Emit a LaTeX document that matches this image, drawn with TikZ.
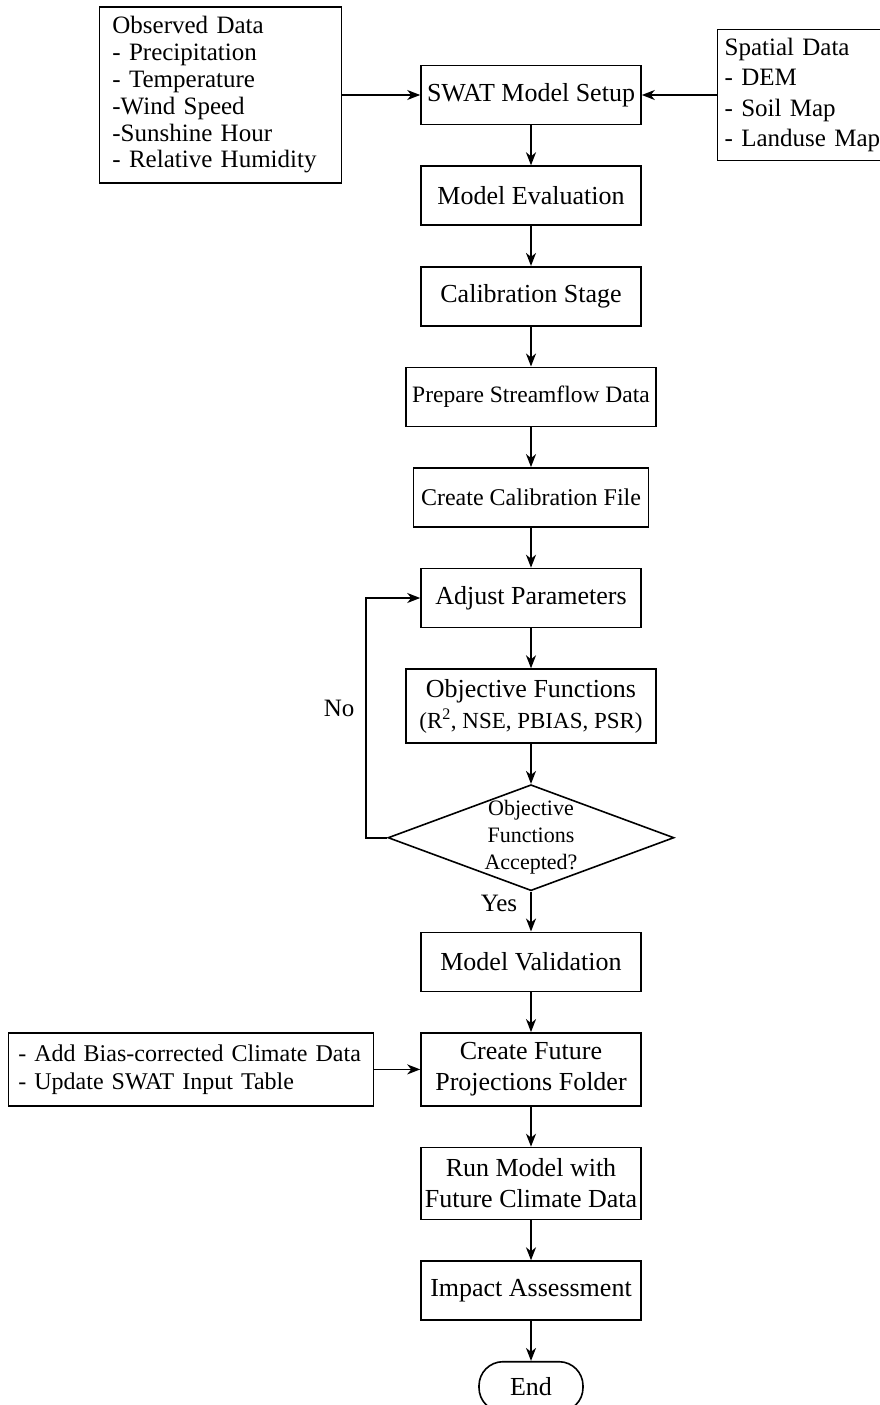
\documentclass[tikz,border=0pt]{standalone}
\usepackage{fontspec}
\setmainfont{Liberation Serif}
\usetikzlibrary{positioning,arrows.meta,shapes.geometric}

\begin{document}
\begin{tikzpicture}[
  x=1pt, y=1pt,
  font=\fontsize{26}{31}\selectfont,
  node distance=40pt,
  blk/.style  = {draw, line width=1.6pt, align=center, inner sep=1pt,
                 minimum width=220pt, minimum height=59pt},
  side/.style = {draw, line width=1.6pt, align=left, inner xsep=13pt,
                 inner ysep=5pt, font=\fontsize{25}{26.8}\selectfont},
  dec/.style  = {draw, diamond, line width=1.6pt, inner sep=0pt,
                 minimum width=286pt, minimum height=106pt},
  term/.style = {draw, line width=1.6pt, rounded corners=24pt,
                 minimum width=104pt, minimum height=50pt},
  ar/.style   = {-{Stealth[length=13pt, width=10pt, inset=4pt]}, line width=1.6pt},
  lbl/.style  = {inner sep=3pt, font=\fontsize{25}{27}\selectfont}
]
\useasboundingbox (0,0) rectangle (879,-1405);

% ---- main column ----------------------------------------------------------
\node[blk] (setup) at (531,-95) {SWAT Model Setup};
\node[blk, below=of setup] (eval) {Model Evaluation};
\node[blk, below=of eval] (calib) {Calibration Stage};
\node[blk, below=of calib, minimum width=250pt,
      font=\fontsize{23.5}{27}\selectfont] (prep) {Prepare Streamflow Data};
\node[blk, below=of prep, minimum width=235pt,
      font=\fontsize{24}{27}\selectfont] (cfile) {Create Calibration File};
\node[blk, below=of cfile] (adjust) {Adjust Parameters};
\node[blk, below=of adjust, minimum width=250pt, minimum height=74pt] (objf)
  {Objective Functions\\{\fontsize{23}{27}\selectfont(R\textsuperscript{2}, NSE, PBIAS, PSR)}};
\node[dec, below=of objf] (accept)
  {\raisebox{-10pt}{\smash{\fontsize{22}{27}\selectfont
   \begin{tabular}{@{}c@{}}Objective\\Functions\\Accepted?\end{tabular}}}};
\node[blk, below=of accept] (valid) {Model Validation};
\node[blk, below=of valid, minimum height=73pt] (future)
  {Create Future\\Projections Folder};
\node[blk, below=of future, minimum height=72pt] (run)
  {Run Model with\\Future Climate Data};
\node[blk, below=of run] (impact) {Impact Assessment};
\node[term, below=of impact] (stop) {End};

% ---- inputs ---------------------------------------------------------------
\node[side, left=78pt of setup, text width=216pt, minimum height=176pt] (obs)
  {Observed Data\\- Precipitation\\- Temperature\\-Wind Speed\\-Sunshine Hour\\- Relative Humidity};
\node[side, right=75pt of setup, inner xsep=7pt, text width=175pt,
      minimum height=131pt, font=\fontsize{25}{30.5}\selectfont] (spatial)
  {Spatial Data\\- DEM\\- Soil Map\\- Landuse Map};
\node[side, left=46pt of future, inner xsep=10pt, text width=345pt,
      minimum height=73pt, font=\fontsize{24}{28}\selectfont] (bias)
  {- Add Bias-corrected Climate Data\\- Update SWAT Input Table};

% ---- connectors -----------------------------------------------------------
\draw[ar] (obs) -- (setup);
\draw[ar] (spatial) -- (setup);
\draw[ar] (setup) -- (eval);
\draw[ar] (eval) -- (calib);
\draw[ar] (calib) -- (prep);
\draw[ar] (prep) -- (cfile);
\draw[ar] (cfile) -- (adjust);
\draw[ar] (adjust) -- (objf);
\draw[ar] (objf) -- (accept);
\draw[ar] (accept.west) -- ++(-21,0)
  |- node[lbl, pos=0.27, left=8pt]{No} (adjust.west);
\draw[ar] (accept) -- node[lbl, pos=0.3, left=10pt]{Yes} (valid);
\draw[ar] (valid) -- (future);
\draw[ar] (bias) -- (future);
\draw[ar] (future) -- (run);
\draw[ar] (run) -- (impact);
\draw[ar] (impact) -- (stop);

\end{tikzpicture}
\end{document}
